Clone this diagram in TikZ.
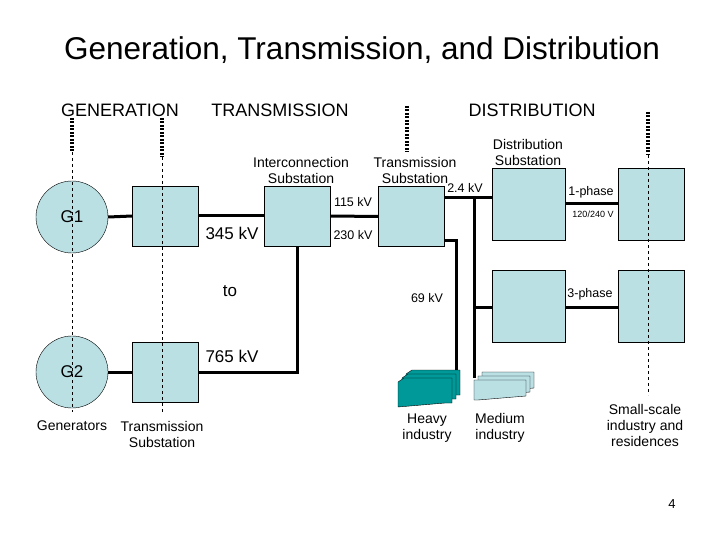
\documentclass[tikz,border=0pt]{standalone}
\usepackage{fontspec}
\setmainfont{Liberation Sans}
\usetikzlibrary{positioning}
\definecolor{boxblue}{RGB}{186,224,228}
\definecolor{heavyteal}{RGB}{0,153,153}
\tikzset{
  sub/.style={draw, fill=boxblue, minimum width=66pt, minimum height=60pt, inner sep=0pt},
  dsub/.style={draw, fill=boxblue, minimum width=73pt, minimum height=72pt, inner sep=0pt},
  gen/.style={draw, fill=boxblue, circle, minimum size=72pt, inner sep=0pt, font=\fontsize{17}{17}\selectfont},
  bus/.style={line width=3pt},
  lbl/.style={font=\fontsize{14}{16}\selectfont, align=center, inner sep=1pt},
  kv/.style={font=\fontsize{12.5}{14}\selectfont, inner sep=1pt},
  big/.style={font=\fontsize{17}{18}\selectfont, inner sep=1pt},
  head/.style={font=\fontsize{18}{20}\selectfont}
}
\begin{document}
\begin{tikzpicture}[x=1pt,y=-1pt]
  \useasboundingbox (0,0) rectangle (720,540);
  %Tiêu đề
  \node[font=\fontsize{31.5}{34}\selectfont] (title) at (362,50) {Generation, Transmission, and Distribution};
  \node[head] (hgen) at (120,110) {GENERATION};
  \node[head] (htr) at (280,110) {TRANSMISSION};
  \node[head] (hdis) at (532,110) {DISTRIBUTION};
  %Đường ranh giới
  \foreach \x/\a/\b in {72/118/152, 162/118/157, 407/106/152, 648/112/155}
    {\draw[line width=4pt, dash pattern=on 2pt off 1.5pt] (\x,\a)--(\x,\b);}
  %Máy phát và trạm
  \node[gen] (g1) at (72,217) {G1};
  \node[gen] (g2) at (72,372) {G2};
  \node[sub] (ts1) at (165.5,216) {};
  \node[sub] (ts2) at (165.5,372) {};
  \node[sub] (ic) at (297,216) {};
  \node[sub] (tsb) at (411.5,216.5) {};
  \node[dsub] (ds1) at (528.5,204) {};
  \node[dsub] (ds2) at (528.5,306) {};
  \node[sub, minimum height=72pt] (ld1) at (651,204) {};
  \node[sub, minimum height=72pt] (ld2) at (651,306) {};
  \foreach \x/\a/\b in {72/152/412, 162/157/412, 648/155/395}
    {\draw[dashed] (\x,\a)--(\x,\b);}
  %Đường dây
  \draw[bus] (g1.east)--(ts1.west);
  \draw[bus] (g2.east)--(ts2.west);
  \draw[bus] (ts1)--(ic);
  \draw[bus] (ts2.east)-|(ic.south);
  \draw[bus] (ic)--(tsb);
  \draw[bus] (tsb.east|-0,198)--(ds1.west|-0,198);
  \coordinate (heavytop) at (456,378);
  \coordinate (medtop) at (474,378);
  \draw[bus] (tsb.east|-0,240)-|(heavytop);
  \draw[bus] (474,198)--(medtop);
  \draw[bus] (474,307)--(ds2.west|-0,307);
  \draw[bus] (ds1.east|-0,204)--(ld1.west|-0,204);
  \draw[bus] (ds2.east|-0,307)--(ld2.west|-0,307);
  %Công nghiệp
  \foreach \d in {8,4,0}
    {\draw[fill=heavyteal] (404+\d,378-\d)--(452+\d,378-\d)--(452+\d,403-\d)--(445+\d,403-\d)--(398+\d,407-\d)--(398+\d,382-\d)--cycle;}
  \foreach \d in {8,4,0}
    {\draw[fill=boxblue] (474+\d,380-\d)--(526+\d,380-\d)--(526+\d,396-\d)--(478+\d,400-\d)--(474+\d,400-\d)--cycle;}
  %Nhãn
  \node[lbl] (lgen) at (72,426) {Generators};
  \node[lbl] (lts) at (162,434) {Transmission\\Substation};
  \node[lbl] (lic) at (301,170) {Interconnection\\Substation};
  \node[lbl] (ltsb) at (415,170) {Transmission\\Substation};
  \node[lbl] (lds) at (528,152) {Distribution\\Substation};
  \node[lbl] (lheavy) at (427,428) {Heavy\\industry};
  \node[lbl] (lmed) at (500,428) {Medium\\industry};
  \node[lbl] (lres) at (645,425) {Small-scale\\industry and\\residences};
  \node[big] (k345) at (232,233) {345 kV};
  \node[big] (kto) at (230,291) {to};
  \node[big] (k765) at (232,356) {765 kV};
  \node[kv] (k115) at (353,202) {115 kV};
  \node[kv] (k230) at (353,235) {230 kV};
  \node[kv] (k24) at (465,188) {2.4 kV};
  \node[kv] (k69) at (427,298) {69 kV};
  \node[kv] (p1) at (591,192) {1-phase};
  \node[font=\fontsize{9}{10}\selectfont] (v120) at (593,214) {120/240 V};
  \node[kv] (p3) at (590,294) {3-phase};
  \node[font=\fontsize{13}{15}\selectfont] (pg) at (672,504) {4};
\end{tikzpicture}
\end{document}
